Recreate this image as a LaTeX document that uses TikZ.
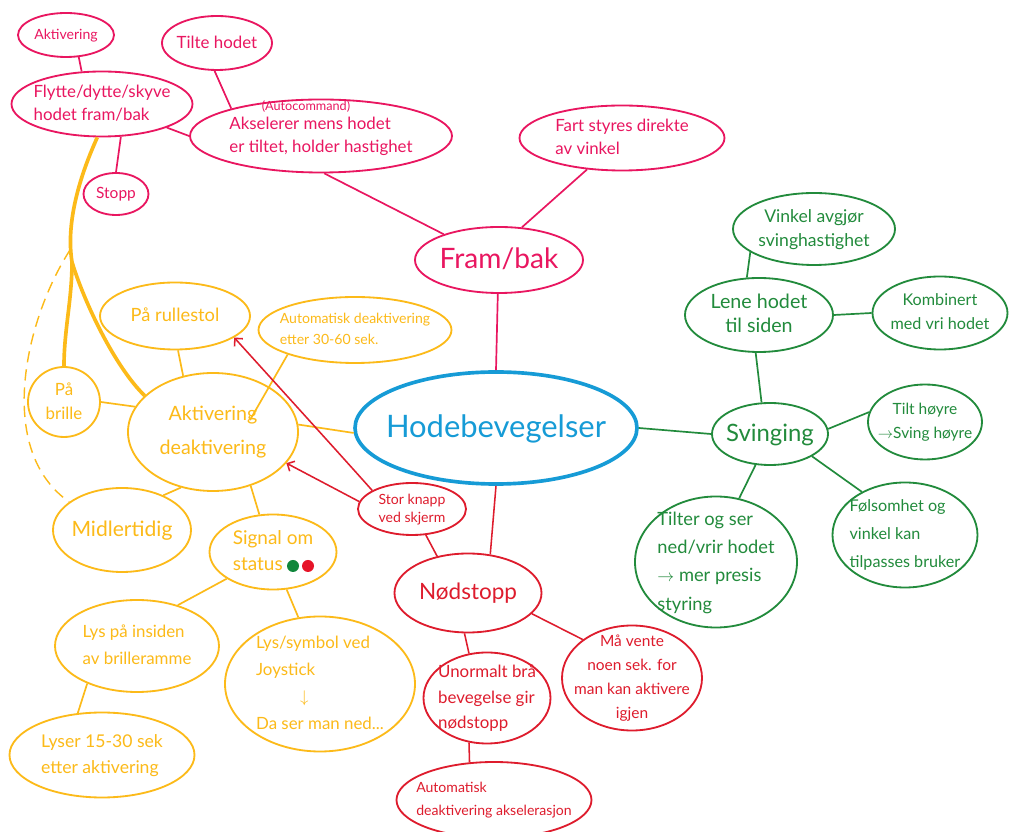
\documentclass[tikz,border=0pt]{standalone}
\usepackage{fontspec}
\setmainfont{Lato}
\usepackage{xcolor}
\usepackage{tikz}
\usetikzlibrary{arrows.meta, shapes.geometric}
\definecolor{framcol}{RGB}{233, 22, 96}
\definecolor{nodcol}{RGB}{222, 28, 45}
\definecolor{svingcol}{RGB}{34, 139, 60}
\definecolor{aktcol}{RGB}{252, 186, 25}
\definecolor{hodecol}{RGB}{22, 155, 214}
\definecolor{dotgreen}{RGB}{16, 135, 60}
\definecolor{dotred}{RGB}{230, 20, 40}
\newcommand{\fsz}[2]{\fontsize{#1}{#2}\selectfont}
\newcommand{\bubtxt}[2][c]{\smash{\makebox[0pt]{\raisebox{\dimexpr 0.2\baselineskip-0.55em\relax}{\begin{tabular}{@{}#1@{}}#2\end{tabular}}}}}
\tikzset{
  bub/.style={ellipse, draw, line width=1.3pt, inner sep=0pt},
  esize/.style 2 args={minimum width=#1*0.025cm, minimum height=#2*0.025cm},
  pinkb/.style={bub, framcol},
  redb/.style={bub, nodcol},
  greenb/.style={bub, svingcol},
  yellowb/.style={bub, aktcol},
  pinkl/.style={framcol, line width=1.2pt},
  redl/.style={nodcol, line width=1.1pt},
  greenl/.style={svingcol, line width=1.2pt},
  yellowl/.style={aktcol, line width=1.2pt},
  thickakt/.style={aktcol, line width=2.6pt}
}

\begin{document}
\begin{tikzpicture}[x=0.025cm, y=-0.025cm]
        \useasboundingbox (0,0) rectangle (1009,832);
        \fill[white] (0,0) rectangle (1009,832);

        % midten
        \node[bub, hodecol, line width=2.6pt, esize={282}{112}, font=\fsz{22}{24}] (hode) at (496,428) {\bubtxt{Hodebevegelser}};

        % fram/bak
        \node[pinkb, esize={168}{66}, font=\fsz{20}{24}] (fram) at (499,260) {\bubtxt{Fram/bak}};
        \node[pinkb, esize={205}{65}, font=\fsz{12}{16}] (fart) at (622,138) {\bubtxt[l]{Fart styres direkte\\av vinkel}};
        \node[pinkb, esize={262}{73}, font=\fsz{12}{16},
              label={[framcol, anchor=north, inner sep=1pt, xshift=-0.375cm, font=\fsz{9}{10}]north:(Autocommand)}]
              (aksel) at (321,136) {\bubtxt[l]{Akselerer mens hodet\\er tiltet, holder hastighet}};
        \node[pinkb, esize={181}{65}, font=\fsz{12}{16}] (flytte) at (102,104) {\bubtxt[l]{Flytte/dytte/skyve\\hodet fram/bak}};
        \node[pinkb, esize={96}{44}, font=\fsz{10}{12}] (aktiv) at (66,35) {\bubtxt{Aktivering}};
        \node[pinkb, esize={110}{54}, font=\fsz{12}{14}] (tilte) at (217,43) {\bubtxt{Tilte hodet}};
        \node[pinkb, esize={65}{42}, font=\fsz{11}{13}] (stopp) at (116,194) {\bubtxt{Stopp}};

        \draw[pinkl] (aktiv.-60) -- (flytte.122);
        \draw[pinkl] (tilte.-95) -- (aksel.163);
        \draw[pinkl] (flytte.-60) -- (stopp.north);
        \draw[pinkl] (flytte.-20) -- (aksel.west);
        \draw[pinkl] (aksel.-85) -- (fram.155);
        \draw[pinkl] (fart.-138) -- (fram.55);
        \draw[pinkl] (fram.-92) -- (hode.north);

        % svinging
        \node[greenb, esize={116}{62}, font=\fsz{17}{20}] (sving) at (770,434) {\bubtxt{Svinging}};
        \node[greenb, esize={162}{72}, font=\fsz{12.5}{17}] (vinkel) at (814,229) {\bubtxt{Vinkel avgjør\\svinghastighet}};
        \node[greenb, esize={148}{74}, font=\fsz{14}{17}] (lene) at (759,315) {\bubtxt{Lene hodet\\til siden}};
        \node[greenb, esize={135}{73}, font=\fsz{11.5}{17}] (komb) at (940,313) {\bubtxt{Kombinert\\med vri hodet}};
        \node[greenb, esize={114}{75}, font=\fsz{11}{17}] (tilt) at (925,422) {\bubtxt{Tilt høyre\\$\rightarrow$Sving høyre}};
        \node[greenb, esize={162}{131}, font=\fsz{13}{20}] (tilter) at (716,562) {\bubtxt[l]{Tilter og ser\\ned/vrir hodet\\$\rightarrow$ mer presis\\styring}};
        \node[greenb, esize={145}{105}, font=\fsz{11.5}{20}] (fols) at (905,535) {\bubtxt[l]{Følsomhet og\\vinkel kan\\tilpasses bruker}};

        \draw[greenl] (hode.east) -- (sving.west);
        \draw[greenl] (sving.105) -- (lene.-95);
        \draw[greenl] (lene.108) -- (vinkel.-160);
        \draw[greenl] (lene.east) -- (komb.west);
        \draw[greenl] (sving.5) -- (tilt.170);
        \draw[greenl] (sving.-28) -- (fols.135);
        \draw[greenl] (sving.-115) -- (tilter.70);

        % aktivering
        \node[yellowb, esize={170}{118}, font=\fsz{14}{24}] (akt) at (213,432) {\bubtxt{Aktivering\\deaktivering}};
        \node[yellowb, esize={150}{67}, font=\fsz{13}{16}] (rull) at (175,316) {\bubtxt{På rullestol}};
        \node[yellowb, esize={193}{66}, font=\fsz{10}{15}] (autod) at (355,330) {\bubtxt[l]{Automatisk deaktivering\\etter 30-60 sek.}};
        \node[yellowb, esize={72}{70}, font=\fsz{12}{17}] (brille) at (64,402) {\bubtxt{På\\brille}};
        \node[yellowb, esize={138}{84}, font=\fsz{15}{18}] (midl) at (122,530) {\bubtxt{Midlertidig}};
        \node[yellowb, esize={127}{75}, font=\fsz{13.5}{19}] (signal) at (273,552) {\bubtxt[l]{Signal om\\status\hspace{2.4em}}};
        \node[yellowb, esize={164}{92}, font=\fsz{12}{19}] (insiden) at (137,646) {\bubtxt[l]{Lys på insiden\\av brilleramme}};
        \node[yellowb, esize={190}{135}, font=\fsz{12}{19}] (symbol) at (320,684) {\bubtxt[l]{Lys/symbol ved\\Joystick\\\hspace{2.6em}$\downarrow$\\Da ser man ned...}};
        \node[yellowb, esize={185}{85}, font=\fsz{12.5}{19}] (lyser) at (102,755) {\bubtxt[l]{Lyser 15-30 sek\\etter aktivering}};
        \fill[dotgreen] (293,566) circle (6);
        \fill[dotred] (308,566) circle (6);

        \draw[yellowl] (hode.182) -- (akt.5);
        \draw[yellowl] (akt.118) -- (rull.-85);
        \draw[yellowl] ([shift={(37,-12)}]akt.center) -- (autod.-160);
        \draw[yellowl] (akt.162) -- (brille.east);
        \draw[yellowl] (akt.-120) -- (midl.40);
        \draw[yellowl] (akt.-55) -- (signal.110);
        \draw[yellowl] (signal.-150) -- (insiden.45);
        \draw[yellowl] (signal.-70) -- (symbol.108);
        \draw[yellowl] (insiden.-143) -- (lyser.120);

        % tykke linjer fra flytte
        \coordinate (split) at (72,262);
        \coordinate (dashstart) at (70,250);
        \draw[thickakt] (flytte.-98) .. controls (78,180) and (66,225) .. (split);
        \draw[thickakt] (split) .. controls (72,300) and (64,330) .. (brille.north);
        \draw[thickakt] (split) .. controls (84,302) and (115,367) .. (akt.152);
        \draw[yellowl, line width=1pt, dashed, dash pattern=on 8pt off 5pt] (dashstart) .. controls (25,320) and (-5,450) .. (midl.152);

        % nødstopp
        \node[redb, esize={108}{52}, font=\fsz{10}{13}] (stor) at (412,509) {\bubtxt{Stor knapp\\ved skjerm}};
        \node[redb, esize={147}{79}, font=\fsz{16}{19}] (nod) at (468,593) {\bubtxt{Nødstopp}};
        \node[redb, esize={127}{91}, font=\fsz{12}{18}] (unorm) at (487,698) {\bubtxt[l]{Unormalt brå\\bevegelse gir\\nødstopp}};
        \node[redb, esize={140}{105}, font=\fsz{11}{17}] (vente) at (632,678) {\bubtxt{Må vente\\noen sek. for\\man kan aktivere\\igjen}};
        \node[redb, esize={195}{76}, font=\fsz{10}{16}] (aksred) at (494,800) {\bubtxt[l]{Automatisk\\deaktivering akselerasjon}};

        \draw[redl] (hode.south) -- (nod.60);
        \draw[redl] (stor.-62) -- (nod.130);
        \draw[redl] (nod.-95) -- (unorm.112);
        \draw[redl] (nod.-18) -- (vente.142);
        \draw[redl] (unorm.-112) -- (aksred.123);
        \draw[redl, -{Straight Barb[length=4pt]}] (stor.172) -- (akt.-23);
        \draw[redl, -{Straight Barb[length=4pt]}] (stor.155) .. controls (338,452) and (268,375) .. (rull.-20);
    \end{tikzpicture}
\end{document}
